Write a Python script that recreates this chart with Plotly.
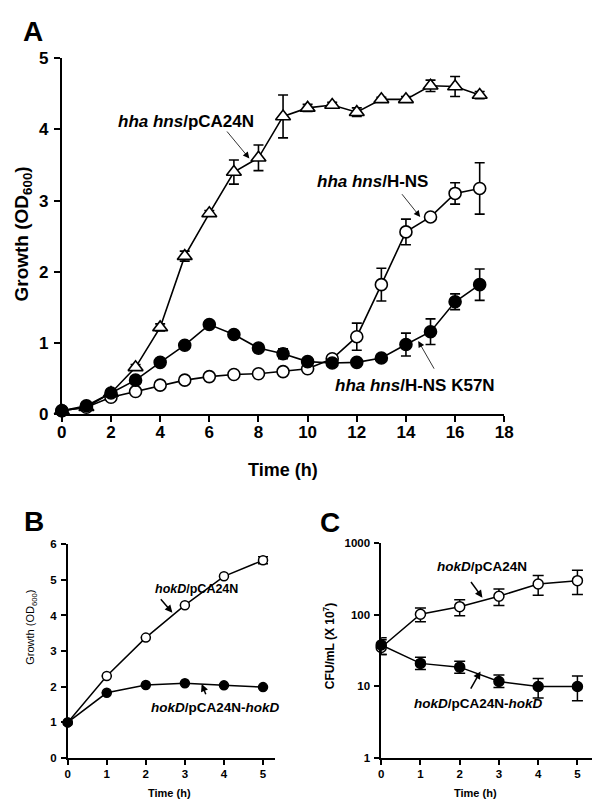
import plotly.graph_objects as go

FONT = "Liberation Sans, Arial, sans-serif"

# ---------------- Panel A data ----------------
time_a = list(range(18))
pca24n_a = [0.05, 0.10, 0.30, 0.66, 1.22, 2.22, 2.82, 3.40, 3.60, 4.18, 4.30, 4.34, 4.24, 4.42, 4.42, 4.61, 4.60, 4.48]
pca24n_a_err = [0, 0, 0.02, 0.04, 0.05, 0.07, 0.04, 0.17, 0.18, 0.30, 0.05, 0.04, 0.06, 0.03, 0.04, 0.08, 0.14, 0.05]
hns_a = [0.05, 0.10, 0.24, 0.32, 0.41, 0.48, 0.53, 0.56, 0.57, 0.60, 0.64, 0.78, 1.09, 1.82, 2.56, 2.77, 3.10, 3.17]
hns_a_err = [0, 0, 0, 0, 0, 0, 0, 0, 0, 0, 0.03, 0.05, 0.19, 0.23, 0.18, 0.03, 0.15, 0.36]
k57n_a = [0.05, 0.12, 0.30, 0.48, 0.73, 0.97, 1.26, 1.12, 0.93, 0.85, 0.74, 0.72, 0.73, 0.79, 0.98, 1.16, 1.58, 1.82]
k57n_a_err = [0, 0, 0, 0.03, 0, 0, 0, 0, 0, 0.07, 0, 0, 0, 0, 0.16, 0.18, 0.11, 0.22]

# ---------------- Panel B data ----------------
time_b = [0, 1, 2, 3, 4, 5]
pca24n_b = [1.0, 2.30, 3.38, 4.29, 5.10, 5.55]
pca24n_b_err = [0, 0, 0, 0, 0, 0.10]
hokd_b = [1.0, 1.83, 2.05, 2.10, 2.04, 1.99]

# ---------------- Panel C data ----------------
time_c = [0, 1, 2, 3, 4, 5]
pca24n_c = [35, 102, 130, 182, 270, 300]
pca24n_c_up = [10, 23, 33, 48, 84, 120]
pca24n_c_dn = [7, 22, 33, 47, 82, 108]
hokd_c = [38, 21, 18.6, 11.7, 10, 10]
hokd_c_up = [10, 4.5, 3.8, 2.8, 2.9, 4.0]
hokd_c_dn = [10, 3.7, 3.3, 2.0, 3.1, 3.7]

fig = go.Figure()

def add_series(x, y, err, xa, ya, symbol, fill, size, lw, cap, errdn=None):
    ed = dict(type="data", array=err, color="black", thickness=lw, width=cap, visible=True)
    if errdn is not None:
        ed["symmetric"] = False
        ed["arrayminus"] = errdn
    fig.add_trace(go.Scatter(
        x=x, y=y, xaxis=xa, yaxis=ya, mode="lines+markers",
        line=dict(color="black", width=lw),
        marker=dict(symbol=symbol, size=size, color=fill, line=dict(color="black", width=lw)),
        error_y=ed, cliponaxis=False, showlegend=False,
    ))

# Panel A
add_series(time_a, pca24n_a, pca24n_a_err, "x", "y", "triangle-up", "white", 13, 1.6, 5)
add_series(time_a, hns_a, hns_a_err, "x", "y", "circle", "white", 12, 1.6, 5)
add_series(time_a, k57n_a, k57n_a_err, "x", "y", "circle", "black", 12, 1.6, 5)
# Panel B
add_series(time_b, pca24n_b, pca24n_b_err, "x2", "y2", "circle", "white", 9, 1.5, 5)
add_series(time_b, hokd_b, [0] * 6, "x2", "y2", "circle", "black", 9, 1.5, 5)
# Panel C
add_series(time_c, pca24n_c, pca24n_c_up, "x3", "y3", "circle", "white", 10, 1.5, 5.5, pca24n_c_dn)
add_series(time_c, hokd_c, hokd_c_up, "x3", "y3", "circle", "black", 10, 1.5, 5.5, hokd_c_dn)

W, H = 600, 803
def px(v):
    return v / W
def py(v):
    return 1 - v / H

def axis(domain, rng, tickvals, fs, lw, ticklen, standoff, log=False, ticktext=None):
    d = dict(domain=domain, range=rng, tickmode="array", tickvals=tickvals,
             showline=True, linecolor="black", linewidth=lw, ticks="outside",
             ticklen=ticklen, tickwidth=lw, tickcolor="black", showgrid=False,
             zeroline=False, tickfont=dict(family=FONT, size=fs, color="black", weight="bold"),
             ticklabelstandoff=standoff)
    if log:
        d["type"] = "log"
    if ticktext is not None:
        d["ticktext"] = ticktext
    return d

xa = axis([px(50), px(503)], [0, 18], list(range(0, 19, 2)), 17, 2, 6, -5)
ya = axis([py(407), py(42)], [0, 5], [0, 1, 2, 3, 4, 5], 17, 2, 6, 2)
xa2 = axis([px(56), px(268)], [0, 5.3], time_b, 11.5, 1.5, 5, -1)
ya2 = axis([py(759), py(540)], [0, 6], [0, 1, 2, 3, 4, 5, 6], 11.5, 1.5, 5, 2)
xa3 = axis([px(377), px(598)], [0, 5.5], time_c, 11.5, 1.5, 5, -1)
ya3 = axis([py(759), py(539)], [0, 3], [1, 10, 100, 1000], 11.5, 1.5, 5, 2, log=True,
           ticktext=["1", "10", "100", "1000"])
xa.update(anchor="y"); ya.update(anchor="x")
xa2.update(anchor="y2"); ya2.update(anchor="x2")
xa3.update(anchor="y3"); ya3.update(anchor="x3")

ann = []
def text(x, y, s, size, bold=True, angle=0, ref=("paper", "paper")):
    ann.append(dict(x=x, y=y, xref=ref[0], yref=ref[1], text=s, showarrow=False,
                    textangle=angle, xanchor="center", yanchor="middle",
                    font=dict(family=FONT, size=size, color="black",
                              weight="bold" if bold else "normal")))

def arrow(x, y, ax, ay, xr, yr, w, head, asize):
    ann.append(dict(x=x, y=y, ax=ax, ay=ay, xref=xr, yref=yr, axref=xr, ayref=yr,
                    text="", showarrow=True, arrowhead=head, arrowwidth=w,
                    arrowsize=asize, arrowcolor="black", standoff=0, startstandoff=0))

# panel letters
text(px(20), py(15), "A", 28)
text(px(22), py(517), "B", 28)
text(px(325), py(518), "C", 28)

# axis titles
text(px(276.5), py(464), "Time (h)", 18)
text(px(10), py(222), "Growth (OD<sub>600</sub>)", 19, angle=-90)
text(px(160), py(795), "Time (h)", 11)
text(px(19), py(625), "Growth (OD<sub>600</sub>)", 11, bold=False, angle=-90)
text(px(474), py(795), "Time (h)", 11)
text(px(323), py(644), "CFU/mL (X 10<sup>7</sup>)", 12, angle=-90)

# Panel A labels + arrows
text(5.07, 4.11, "<i>hha hns</i>/pCA24N", 17, ref=("x", "y"))
text(12.65, 3.27, "<i>hha hns</i>/H-NS", 17, ref=("x", "y"))
text(14.36, 0.41, "<i>hha hns</i>/H-NS K57N", 17, ref=("x", "y"))
arrow(7.63, 3.59, 6.67, 3.99, "x", "y", 0.8, 2, 1.6)
arrow(14.58, 2.77, 13.79, 3.11, "x", "y", 0.8, 2, 1.6)
arrow(14.50, 1.03, 15.18, 0.62, "x", "y", 0.8, 2, 1.6)

# Panel B labels + arrows
text(3.30, 4.75, "<i>hokD</i>/pCA24N", 12.5, ref=("x2", "y2"))
text(3.78, 1.43, "<i>hokD</i>/pCA24N-<i>hokD</i>", 13.5, ref=("x2", "y2"))
arrow(2.68, 4.08, 2.35, 4.50, "x2", "y2", 1.5, 2, 1)
arrow(3.43, 2.08, 3.55, 1.75, "x2", "y2", 1.5, 2, 1)

# Panel C labels + arrows (log axis -> log10 coordinates)
text(2.57, 2.67, "<i>hokD</i>/pCA24N", 13.5, ref=("x3", "y3"))
text(2.48, 0.76, "<i>hokD</i>/pCA24N-<i>hokD</i>", 13.5, ref=("x3", "y3"))
arrow(2.58, 2.24, 2.26, 2.48, "x3", "y3", 1.5, 2, 1)
arrow(2.53, 1.21, 2.26, 0.95, "x3", "y3", 1.5, 2, 1)

fig.update_layout(
    width=W, height=H, margin=dict(l=0, r=0, t=0, b=0),
    paper_bgcolor="white", plot_bgcolor="white",
    xaxis=xa, yaxis=ya, xaxis2=xa2, yaxis2=ya2, xaxis3=xa3, yaxis3=ya3,
    annotations=ann, showlegend=False,
    font=dict(family=FONT, color="black"),
)

fig.write_html("out.html")
